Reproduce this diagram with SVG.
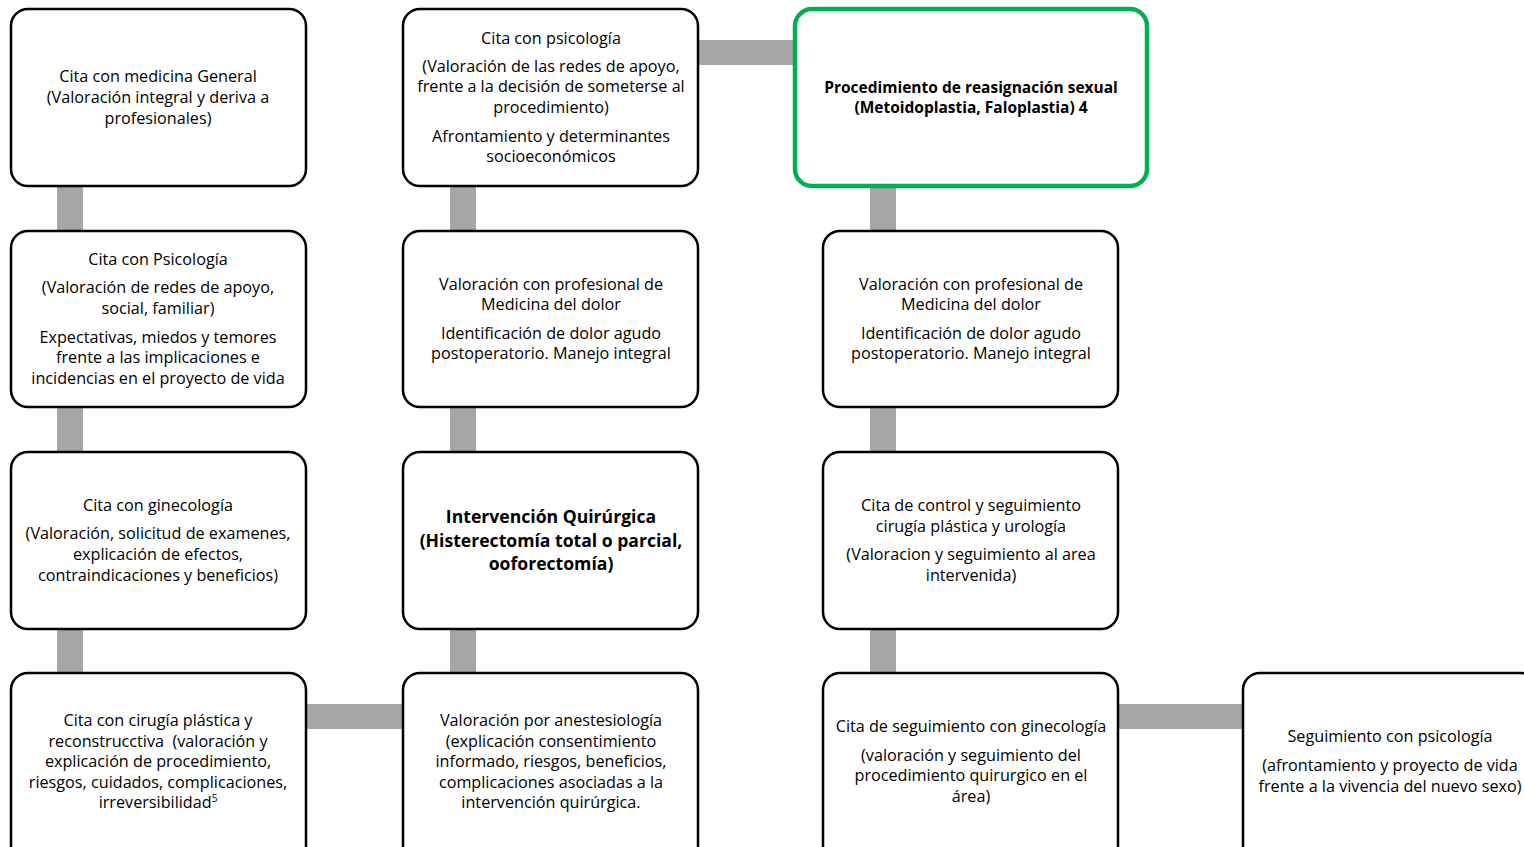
<svg xmlns="http://www.w3.org/2000/svg" width="1524" height="847" viewBox="0 0 1524 847">
<style>
.box{fill:#fff;stroke:#000;stroke-width:2.5}
.green{fill:#fff;stroke:#00b050;stroke-width:4.5}
.conn{fill:#a6a6a6}
text{font-family:"Open Sans","Liberation Sans",sans-serif;font-size:16.2px;fill:#000;text-anchor:middle}
.b{font-size:15.5px;font-weight:bold}
.big{font-size:17.6px;font-weight:bold}
</style>
<rect width="1524" height="847" fill="#fff"/>
<g id="connectors">
<rect class="conn" x="57" y="186" width="26" height="46"/>
<rect class="conn" x="57" y="407" width="26" height="46"/>
<rect class="conn" x="57" y="628" width="26" height="46"/>
<rect class="conn" x="450" y="186" width="26" height="46"/>
<rect class="conn" x="450" y="407" width="26" height="46"/>
<rect class="conn" x="450" y="628" width="26" height="46"/>
<rect class="conn" x="870" y="186" width="26" height="46"/>
<rect class="conn" x="870" y="407" width="26" height="46"/>
<rect class="conn" x="870" y="628" width="26" height="46"/>
<rect class="conn" x="698" y="40" width="98" height="25"/>
<rect class="conn" x="306" y="704" width="98" height="25"/>
<rect class="conn" x="1118" y="704" width="126" height="25"/>
</g>
<g id="n1">
<rect class="box" x="11" y="9" width="295" height="177" rx="17"/>
<text x="158" y="82">Cita con medicina General</text>
<text x="158" y="103">(Valoración integral y deriva a</text>
<text x="158" y="124">profesionales)</text>
</g>
<g id="n2">
<rect class="box" x="11" y="231" width="295" height="176" rx="17"/>
<text x="158" y="265">Cita con Psicología</text>
<text x="158" y="293">(Valoración de redes de apoyo,</text>
<text x="158" y="314">social, familiar)</text>
<text x="158" y="343">Expectativas, miedos y temores</text>
<text x="158" y="363">frente a las implicaciones e</text>
<text x="158" y="384">incidencias en el proyecto de vida</text>
</g>
<g id="n3">
<rect class="box" x="11" y="452" width="295" height="177" rx="17"/>
<text x="158" y="511">Cita con ginecología</text>
<text x="158" y="539">(Valoración, solicitud de examenes,</text>
<text x="158" y="560">explicación de efectos,</text>
<text x="158" y="581">contraindicaciones y beneficios)</text>
</g>
<g id="n4">
<rect class="box" x="11" y="673" width="295" height="190" rx="17"/>
<text x="158" y="726">Cita con cirugía plástica y</text>
<text x="158" y="747" xml:space="preserve">reconstrucctiva  (valoración y</text>
<text x="158" y="767">explicación de procedimiento,</text>
<text x="158" y="788">riesgos, cuidados, complicaciones,</text>
<text x="158" y="808">irreversibilidad<tspan font-size="10" dy="-6">5</tspan></text>
</g>
<g id="n5">
<rect class="box" x="403" y="9" width="295" height="177" rx="17"/>
<text x="551" y="44">Cita con psicología</text>
<text x="551" y="72">(Valoración de las redes de apoyo,</text>
<text x="551" y="92">frente a la decisión de someterse al</text>
<text x="551" y="113">procedimiento)</text>
<text x="551" y="142">Afrontamiento y determinantes</text>
<text x="551" y="162">socioeconómicos</text>
</g>
<g id="n6">
<rect class="box" x="403" y="231" width="295" height="176" rx="17"/>
<text x="551" y="290">Valoración con profesional de</text>
<text x="551" y="310">Medicina del dolor</text>
<text x="551" y="339">Identificación de dolor agudo</text>
<text x="551" y="359">postoperatorio. Manejo integral</text>
</g>
<g id="n7">
<rect class="box" x="403" y="452" width="295" height="177" rx="17"/>
<text class="big" x="551" y="523">Intervención Quirúrgica</text>
<text class="big" x="551" y="547">(Histerectomía total o parcial,</text>
<text class="big" x="551" y="570">ooforectomía)</text>
</g>
<g id="n8">
<rect class="box" x="403" y="673" width="295" height="190" rx="17"/>
<text x="551" y="726">Valoración por anestesiología</text>
<text x="551" y="747">(explicación consentimiento</text>
<text x="551" y="767">informado, riesgos, beneficios,</text>
<text x="551" y="788">complicaciones asociadas a la</text>
<text x="551" y="808">intervención quirúrgica.</text>
</g>
<g id="n9">
<rect class="green" x="795" y="9" width="352" height="177" rx="17"/>
<text class="b" x="971" y="93">Procedimiento de reasignación sexual</text>
<text class="b" x="971" y="113">(Metoidoplastia, Faloplastia) 4</text>
</g>
<g id="n10">
<rect class="box" x="823" y="231" width="295" height="176" rx="17"/>
<text x="971" y="290">Valoración con profesional de</text>
<text x="971" y="310">Medicina del dolor</text>
<text x="971" y="339">Identificación de dolor agudo</text>
<text x="971" y="359">postoperatorio. Manejo integral</text>
</g>
<g id="n11">
<rect class="box" x="823" y="452" width="295" height="177" rx="17"/>
<text x="971" y="511">Cita de control y seguimiento</text>
<text x="971" y="532">cirugía plástica y urología</text>
<text x="971" y="560">(Valoracion y seguimiento al area</text>
<text x="971" y="581">intervenida)</text>
</g>
<g id="n12">
<rect class="box" x="823" y="673" width="295" height="190" rx="17"/>
<text x="971" y="732">Cita de seguimiento con ginecología</text>
<text x="971" y="761">(valoración y seguimiento del</text>
<text x="971" y="781">procedimiento quirurgico en el</text>
<text x="971" y="802">área)</text>
</g>
<g id="n13">
<rect class="box" x="1243" y="673" width="295" height="190" rx="17"/>
<text x="1390" y="742">Seguimiento con psicología</text>
<text x="1390" y="771">(afrontamiento y proyecto de vida</text>
<text x="1390" y="792">frente a la vivencia del nuevo sexo)</text>
</g>
</svg>
